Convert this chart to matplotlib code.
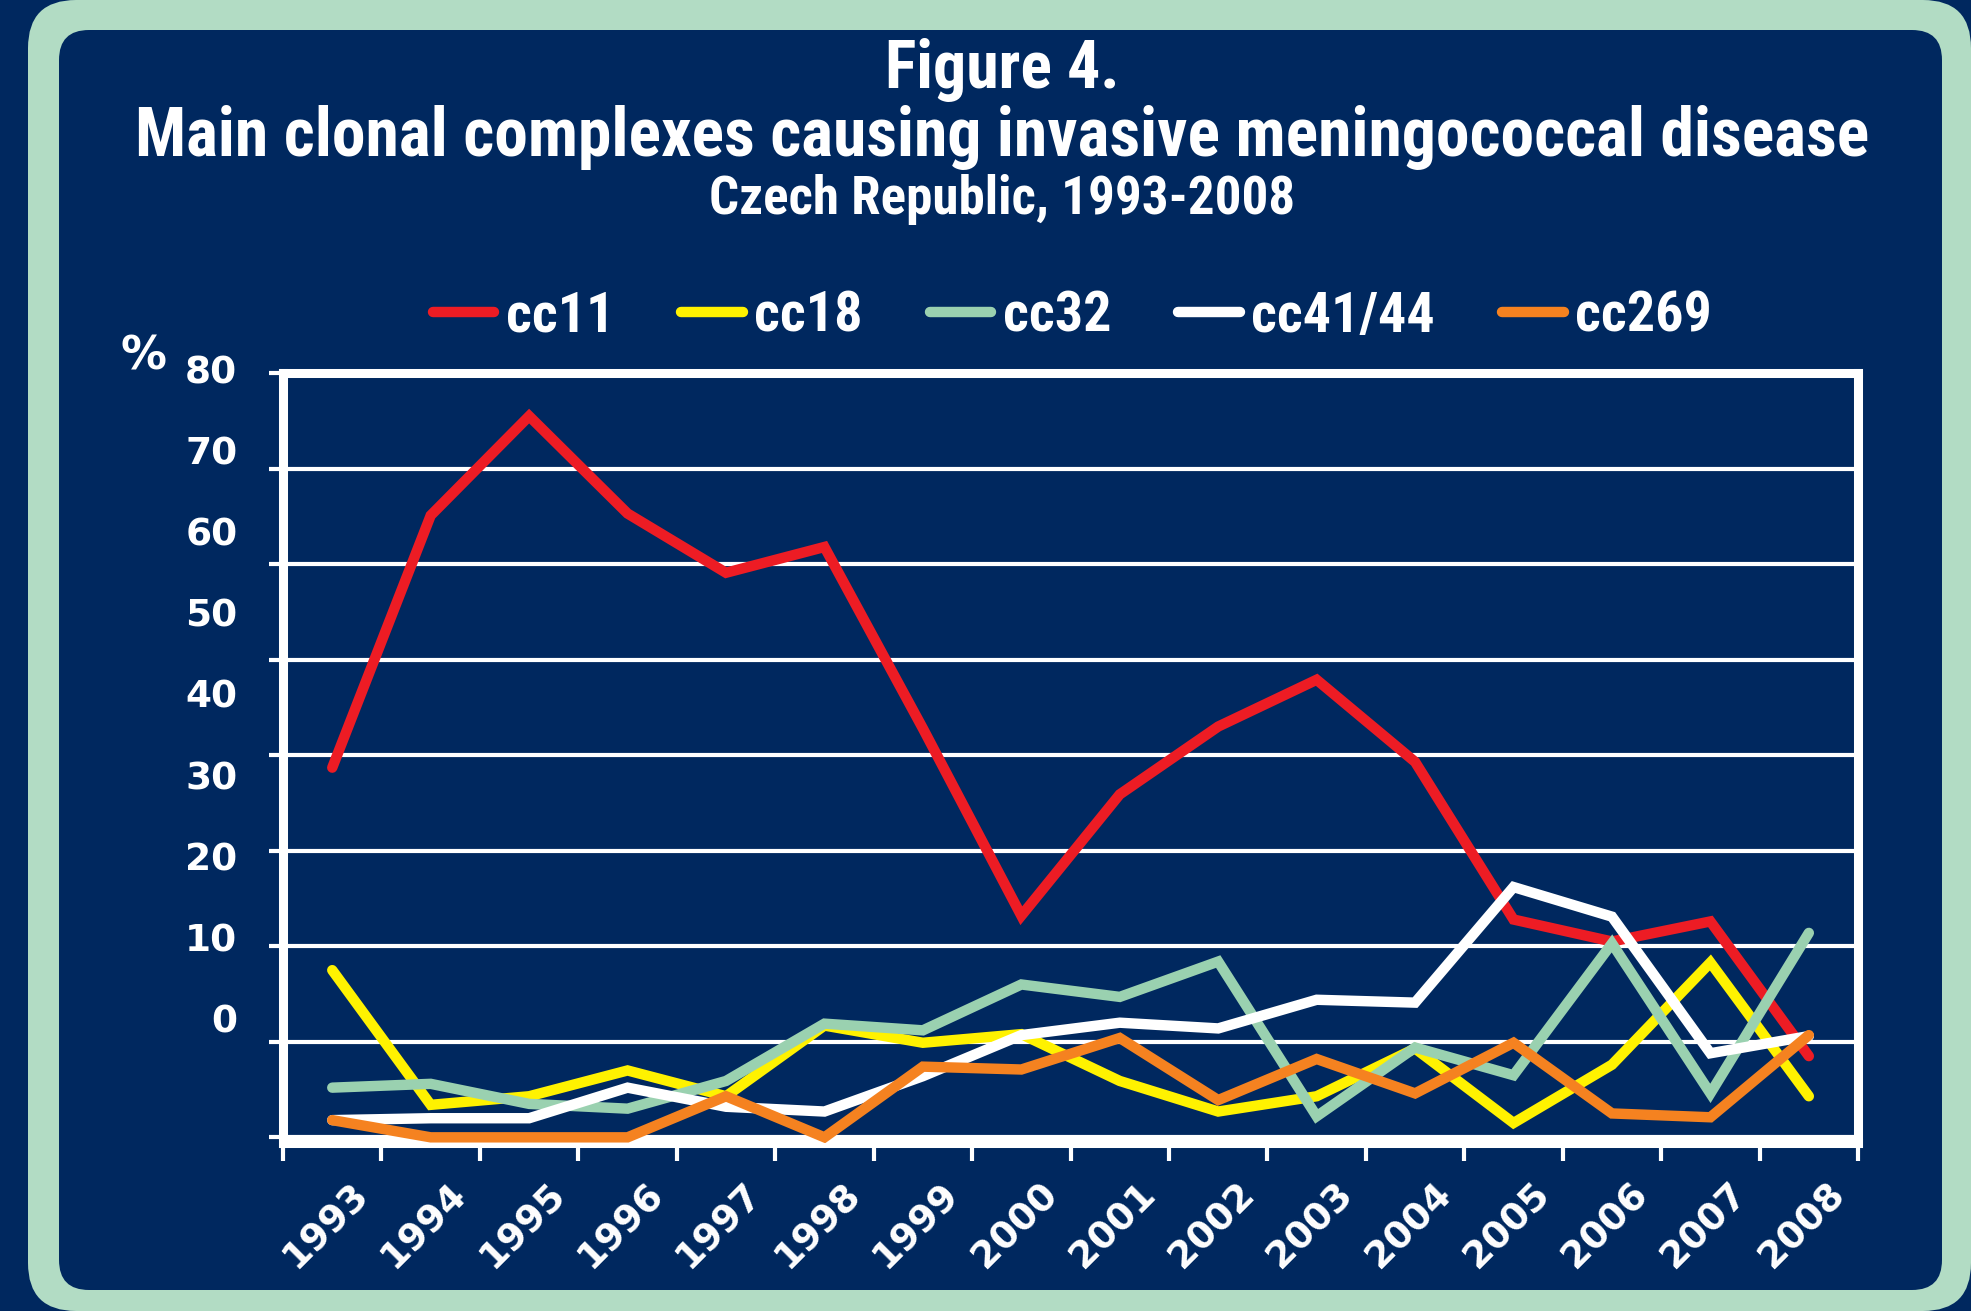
import numpy as np
import matplotlib
matplotlib.use("Agg")
import matplotlib.pyplot as plt
from matplotlib import font_manager
from matplotlib.patches import FancyBboxPatch
from matplotlib.transforms import ScaledTranslation, blended_transform_factory

# share of isolates (%) per clonal complex, 1993-2008
years = [str(y) for y in range(1993, 2009)]
cc11 = [38.7, 65.1, 75.5, 65.3, 59.1, 61.8, 42.8, 23.2, 35.9, 43.0, 47.9, 39.3, 22.8, 20.5, 22.6, 8.5]
cc18 = [17.5, 3.4, 4.3, 7.0, 4.3, 11.7, 9.9, 10.8, 5.9, 2.7, 4.3, 9.3, 1.5, 7.6, 18.3, 4.3]
cc32 = [5.2, 5.6, 3.5, 3.0, 5.9, 11.9, 11.2, 16.0, 14.7, 18.4, 2.2, 9.4, 6.5, 20.3, 4.6, 21.4]
cc41_44 = [1.8, 2.0, 2.0, 5.2, 3.2, 2.7, 6.4, 10.7, 12.0, 11.4, 14.4, 14.1, 26.2, 23.1, 8.8, 10.6]
cc269 = [1.8, 0.0, 0.0, 0.0, 4.3, 0.0, 7.4, 7.1, 10.4, 3.9, 8.2, 4.6, 9.9, 2.5, 2.1, 10.7]

series = [cc11, cc18, cc32, cc41_44, cc269]
names = ["cc11", "cc18", "cc32", "cc41/44", "cc269"]
colors = ["#ED1C24", "#FFF200", "#9AD1B0", "#FFFFFF", "#F58220"]
yticks = [80, 70, 60, 50, 40, 30, 20, 10, 0]

NAVY = "#00285F"
FRAME = "#B2DCC4"

# narrow Calibri-like face if there is one, otherwise Lato
installed = {f.name for f in font_manager.fontManager.ttflist}
NARROW = "Lato"
for cand in ["Liberation Sans Narrow", "Roboto Condensed", "Open Sans Condensed", "Lato"]:
    if cand in installed:
        NARROW = cand
        break

fig = plt.figure(figsize=(19.71, 13.11), dpi=100, facecolor=NAVY)
renderer = fig.canvas.get_renderer()


def fit_size(s, target_px, family, base=40):
    t = fig.text(0, 0, s, fontsize=base, family=family, fontweight="bold")
    w = t.get_window_extent(renderer=renderer).width
    t.remove()
    return base * target_px / w


# light green rounded frame and navy panel (inches, origin bottom-left)
outer = FancyBboxPatch((0.28, 0.0), 19.43, 13.11,
                       boxstyle="round,pad=0,rounding_size=0.48",
                       transform=fig.dpi_scale_trans, facecolor=FRAME,
                       edgecolor="none", zorder=-2)
inner = FancyBboxPatch((0.59, 0.21), 18.83, 12.60,
                       boxstyle="round,pad=0,rounding_size=0.30",
                       transform=fig.dpi_scale_trans, facecolor=NAVY,
                       edgecolor="none", zorder=-1)
fig.add_artist(outer)
fig.add_artist(inner)

titles = [("Figure 4.", 234, 88),
          ("Main clonal complexes causing invasive meningococcal disease", 1732, 156),
          ("Czech Republic, 1993-2008", 585, 214)]
for s, width_px, base_px in titles:
    fig.text(0.5083, 1 - base_px / 1311, s, ha="center", va="baseline",
             color="white", fontsize=fit_size(s, width_px, NARROW),
             fontweight="bold", family=NARROW)

ax = fig.add_axes([0.1436, 0.1281, 0.7991, 0.5873])
ax.set_facecolor("none")

x = np.arange(len(years))
for vals, name, col in zip(series, names, colors):
    ax.plot(x, vals, color=col, lw=7.5, label=name, solid_capstyle="round",
            solid_joinstyle="miter", zorder=3)

ax.set_xlim(-0.5, len(years) - 0.5)
ax.set_ylim(-0.6, 80)

ax.set_yticks(yticks)
ax.set_yticklabels([])
ax.yaxis.grid(True, color="white", lw=3)
ax.set_axisbelow(True)
ax.tick_params(axis="y", direction="out", length=10, width=3, colors="white")

ax.set_xticks(np.arange(len(years) + 1) - 0.5)
ax.set_xticklabels([])
ax.tick_params(axis="x", direction="out", length=13, width=3, colors="white")

for side in ["left", "right", "top", "bottom"]:
    ax.spines[side].set_color("white")
    ax.spines[side].set_linewidth(6.5)

# y labels sit slightly compressed relative to the gridlines, as in the original
for v in yticks:
    ax.text(-0.029, 80 - (80 - v) * 0.85, str(v), transform=ax.get_yaxis_transform(),
            ha="right", va="center", color="white", fontsize=27,
            fontweight="bold", family="DejaVu Sans")

xlab_tr = blended_transform_factory(ax.transData, ax.transAxes) + \
    ScaledTranslation(0.18, -0.33, fig.dpi_scale_trans)
for i, yr in enumerate(years):
    ax.text(i, 0, yr, transform=xlab_tr, rotation=45, rotation_mode="anchor",
            ha="right", va="top", color="white", fontsize=27,
            fontweight="bold", family="DejaVu Sans")

fig.text(143 / 1971, 1 - 357 / 1311, "%", ha="center", va="center",
         color="white", fontsize=33, fontweight="bold", family="DejaVu Sans")

leg_size = fit_size("cc41/44", 183, NARROW)
leg = fig.legend(loc="center", bbox_to_anchor=(0.544, 1 - 317 / 1311), ncol=5,
                 frameon=False, handlelength=1.1, handletextpad=0.2,
                 columnspacing=1.2,
                 prop={"family": NARROW, "weight": "bold", "size": leg_size})
for t in leg.get_texts():
    t.set_color("white")

fig.savefig("out.png", dpi=100, facecolor=NAVY)
